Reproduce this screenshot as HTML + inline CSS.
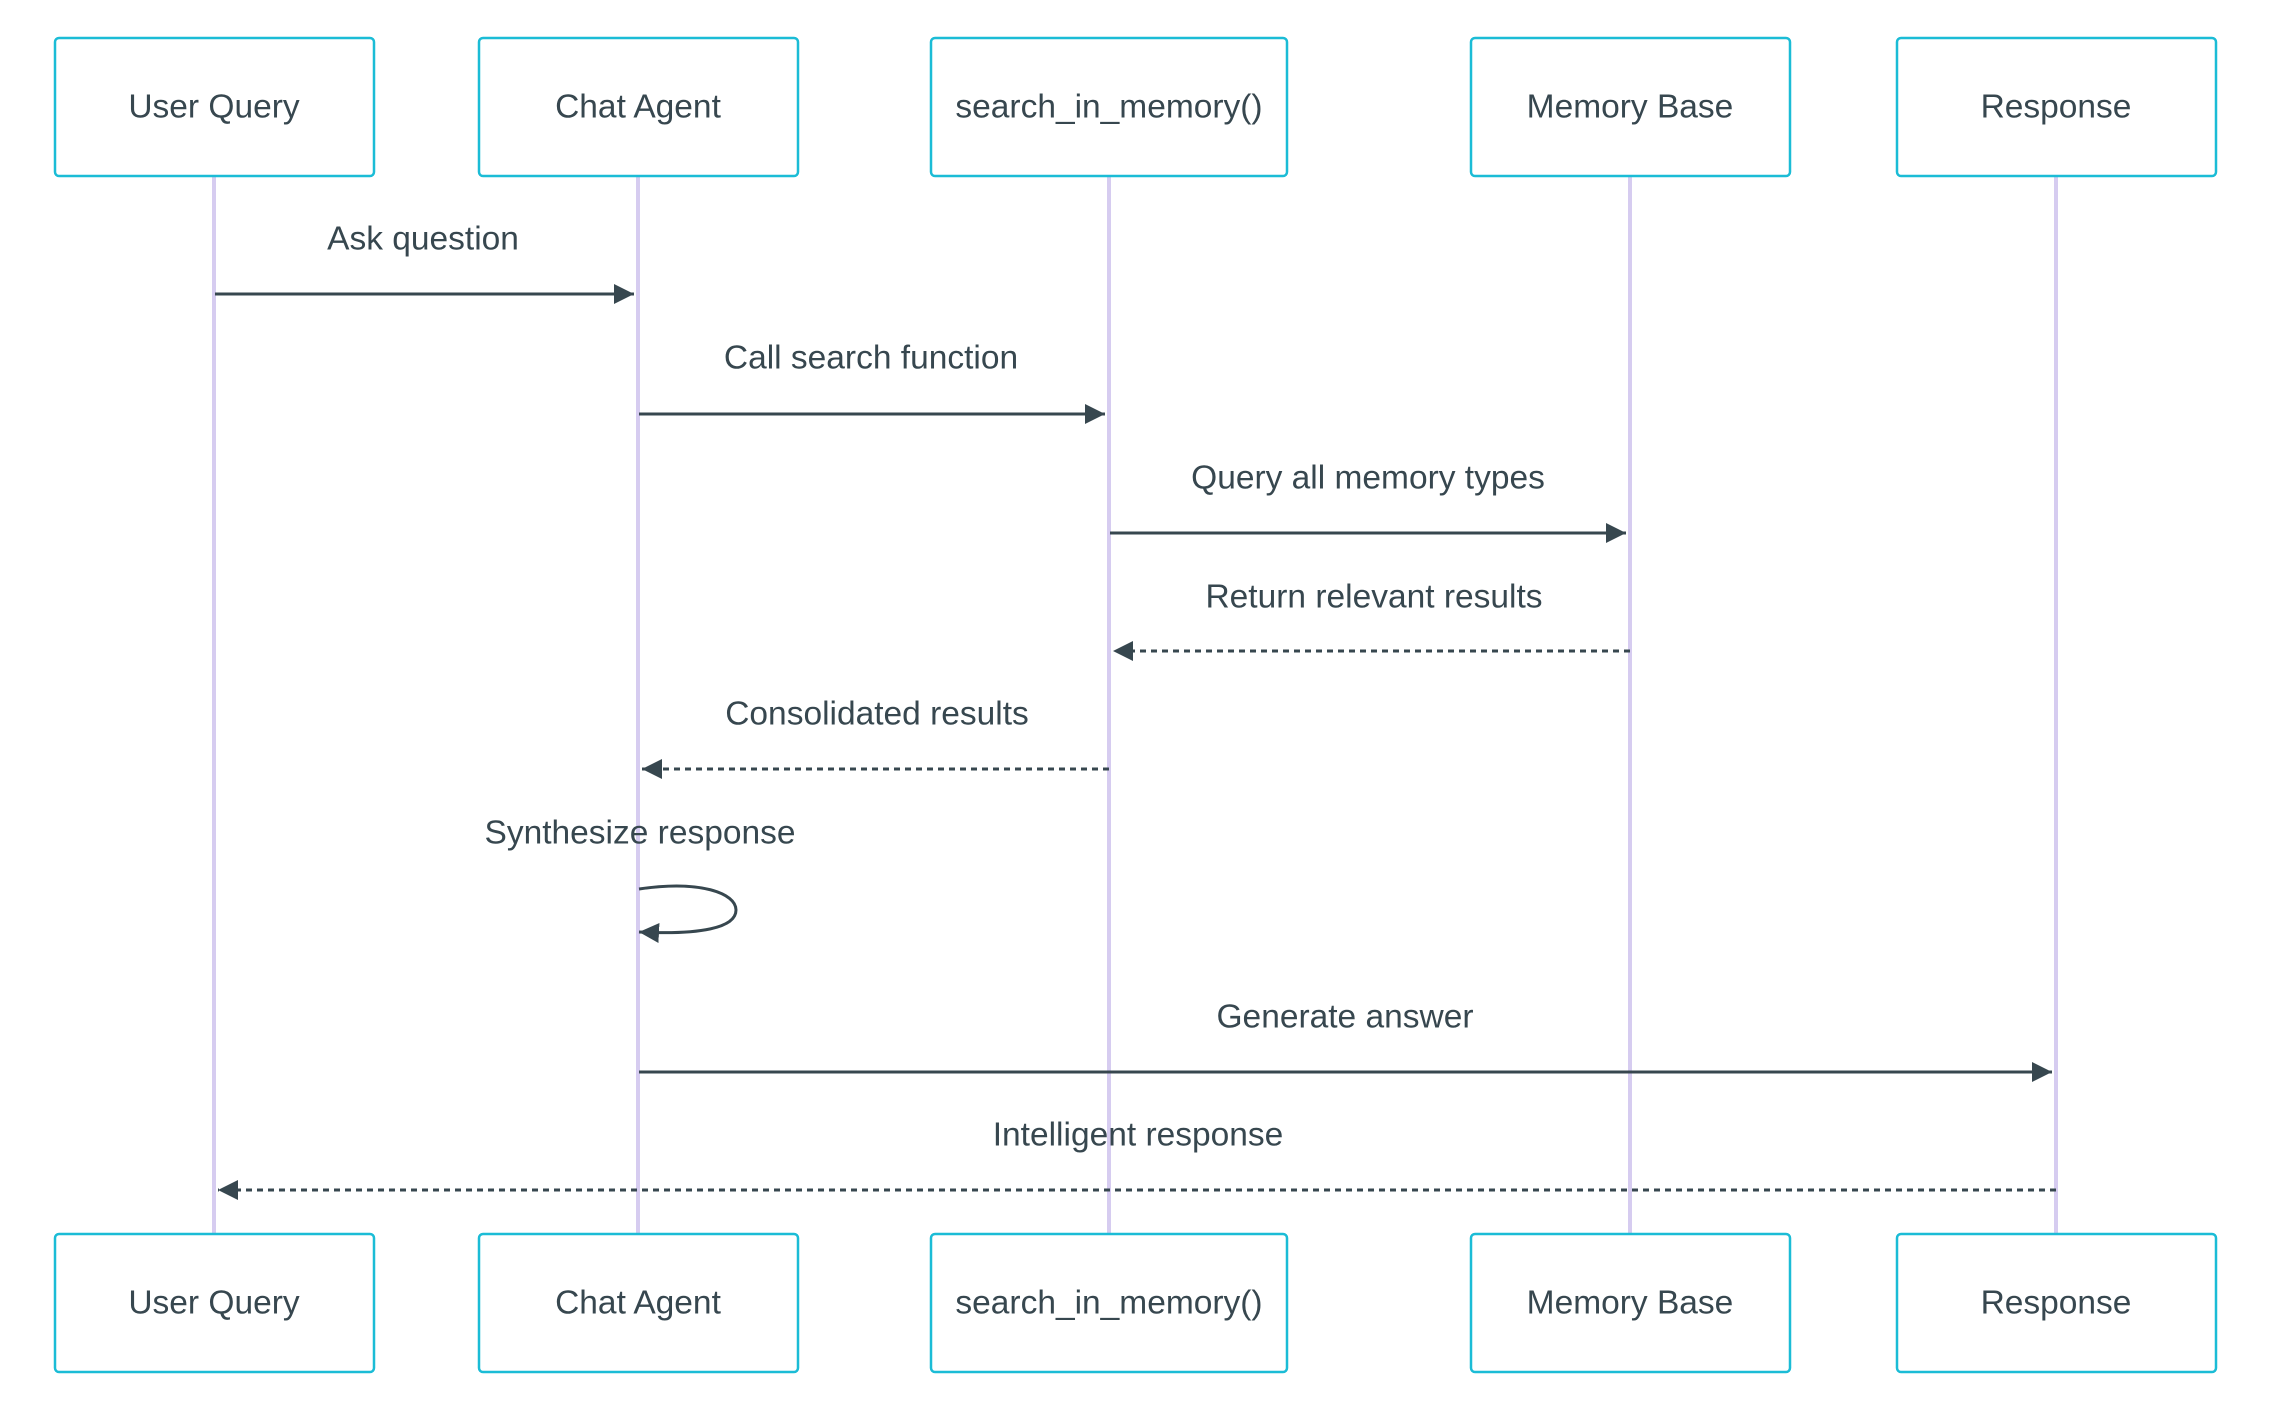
<!DOCTYPE html>
<html><head><meta charset="utf-8"><style>
html,body{margin:0;padding:0;background:#fff;}
svg{display:block;}
text{font-family:"Liberation Sans",sans-serif;font-size:33.5px;fill:#37474f;}
</style></head><body>
<svg width="2284" height="1404" viewBox="0 0 2284 1404" xmlns="http://www.w3.org/2000/svg">
<defs>
<marker id="ah" markerWidth="20" markerHeight="20" refX="20" refY="10" orient="auto" markerUnits="userSpaceOnUse">
<path d="M0,0 L20,10 L0,20 z" fill="#37474f"/>
</marker>
</defs>
<g stroke="#d6ccf0" stroke-width="4">
<line x1="214" y1="176" x2="214" y2="1234"/>
<line x1="638" y1="176" x2="638" y2="1234"/>
<line x1="1109" y1="176" x2="1109" y2="1234"/>
<line x1="1630" y1="176" x2="1630" y2="1234"/>
<line x1="2056" y1="176" x2="2056" y2="1234"/>
</g>
<g fill="#fff" stroke="#1bbcd6" stroke-width="2.5">
<rect x="55" y="38" width="319" height="138" rx="4"/>
<rect x="479" y="38" width="319" height="138" rx="4"/>
<rect x="931" y="38" width="356" height="138" rx="4"/>
<rect x="1471" y="38" width="319" height="138" rx="4"/>
<rect x="1897" y="38" width="319" height="138" rx="4"/>
<rect x="55" y="1234" width="319" height="138" rx="4"/>
<rect x="479" y="1234" width="319" height="138" rx="4"/>
<rect x="931" y="1234" width="356" height="138" rx="4"/>
<rect x="1471" y="1234" width="319" height="138" rx="4"/>
<rect x="1897" y="1234" width="319" height="138" rx="4"/>
</g>
<g text-anchor="middle" dominant-baseline="central">
<text x="214" y="107">User Query</text>
<text x="638" y="107">Chat Agent</text>
<text x="1109" y="107">search_in_memory()</text>
<text x="1630" y="107">Memory Base</text>
<text x="2056" y="107">Response</text>
<text x="214" y="1303">User Query</text>
<text x="638" y="1303">Chat Agent</text>
<text x="1109" y="1303">search_in_memory()</text>
<text x="1630" y="1303">Memory Base</text>
<text x="2056" y="1303">Response</text>
<text x="423" y="239">Ask question</text>
<text x="871" y="358">Call search function</text>
<text x="1368" y="478">Query all memory types</text>
<text x="1374" y="597">Return relevant results</text>
<text x="877" y="714">Consolidated results</text>
<text x="640" y="833">Synthesize response</text>
<text x="1345" y="1017">Generate answer</text>
<text x="1138" y="1135">Intelligent response</text>
</g>
<g stroke="#37474f" stroke-width="3" fill="none" marker-end="url(#ah)">
<line x1="215" y1="294" x2="634" y2="294"/>
<line x1="639" y1="414" x2="1105" y2="414"/>
<line x1="1110" y1="533" x2="1626" y2="533"/>
<line x1="1630" y1="651" x2="1113" y2="651" stroke-dasharray="6,5"/>
<line x1="1109" y1="769" x2="642" y2="769" stroke-dasharray="6,5"/>
<path d="M639,889 C700,880 736,893 736,910 C736,928 700,935 639,932"/>
<line x1="639" y1="1072" x2="2052" y2="1072"/>
<line x1="2056" y1="1190" x2="218" y2="1190" stroke-dasharray="6,5"/>
</g>
</svg>
</body></html>
